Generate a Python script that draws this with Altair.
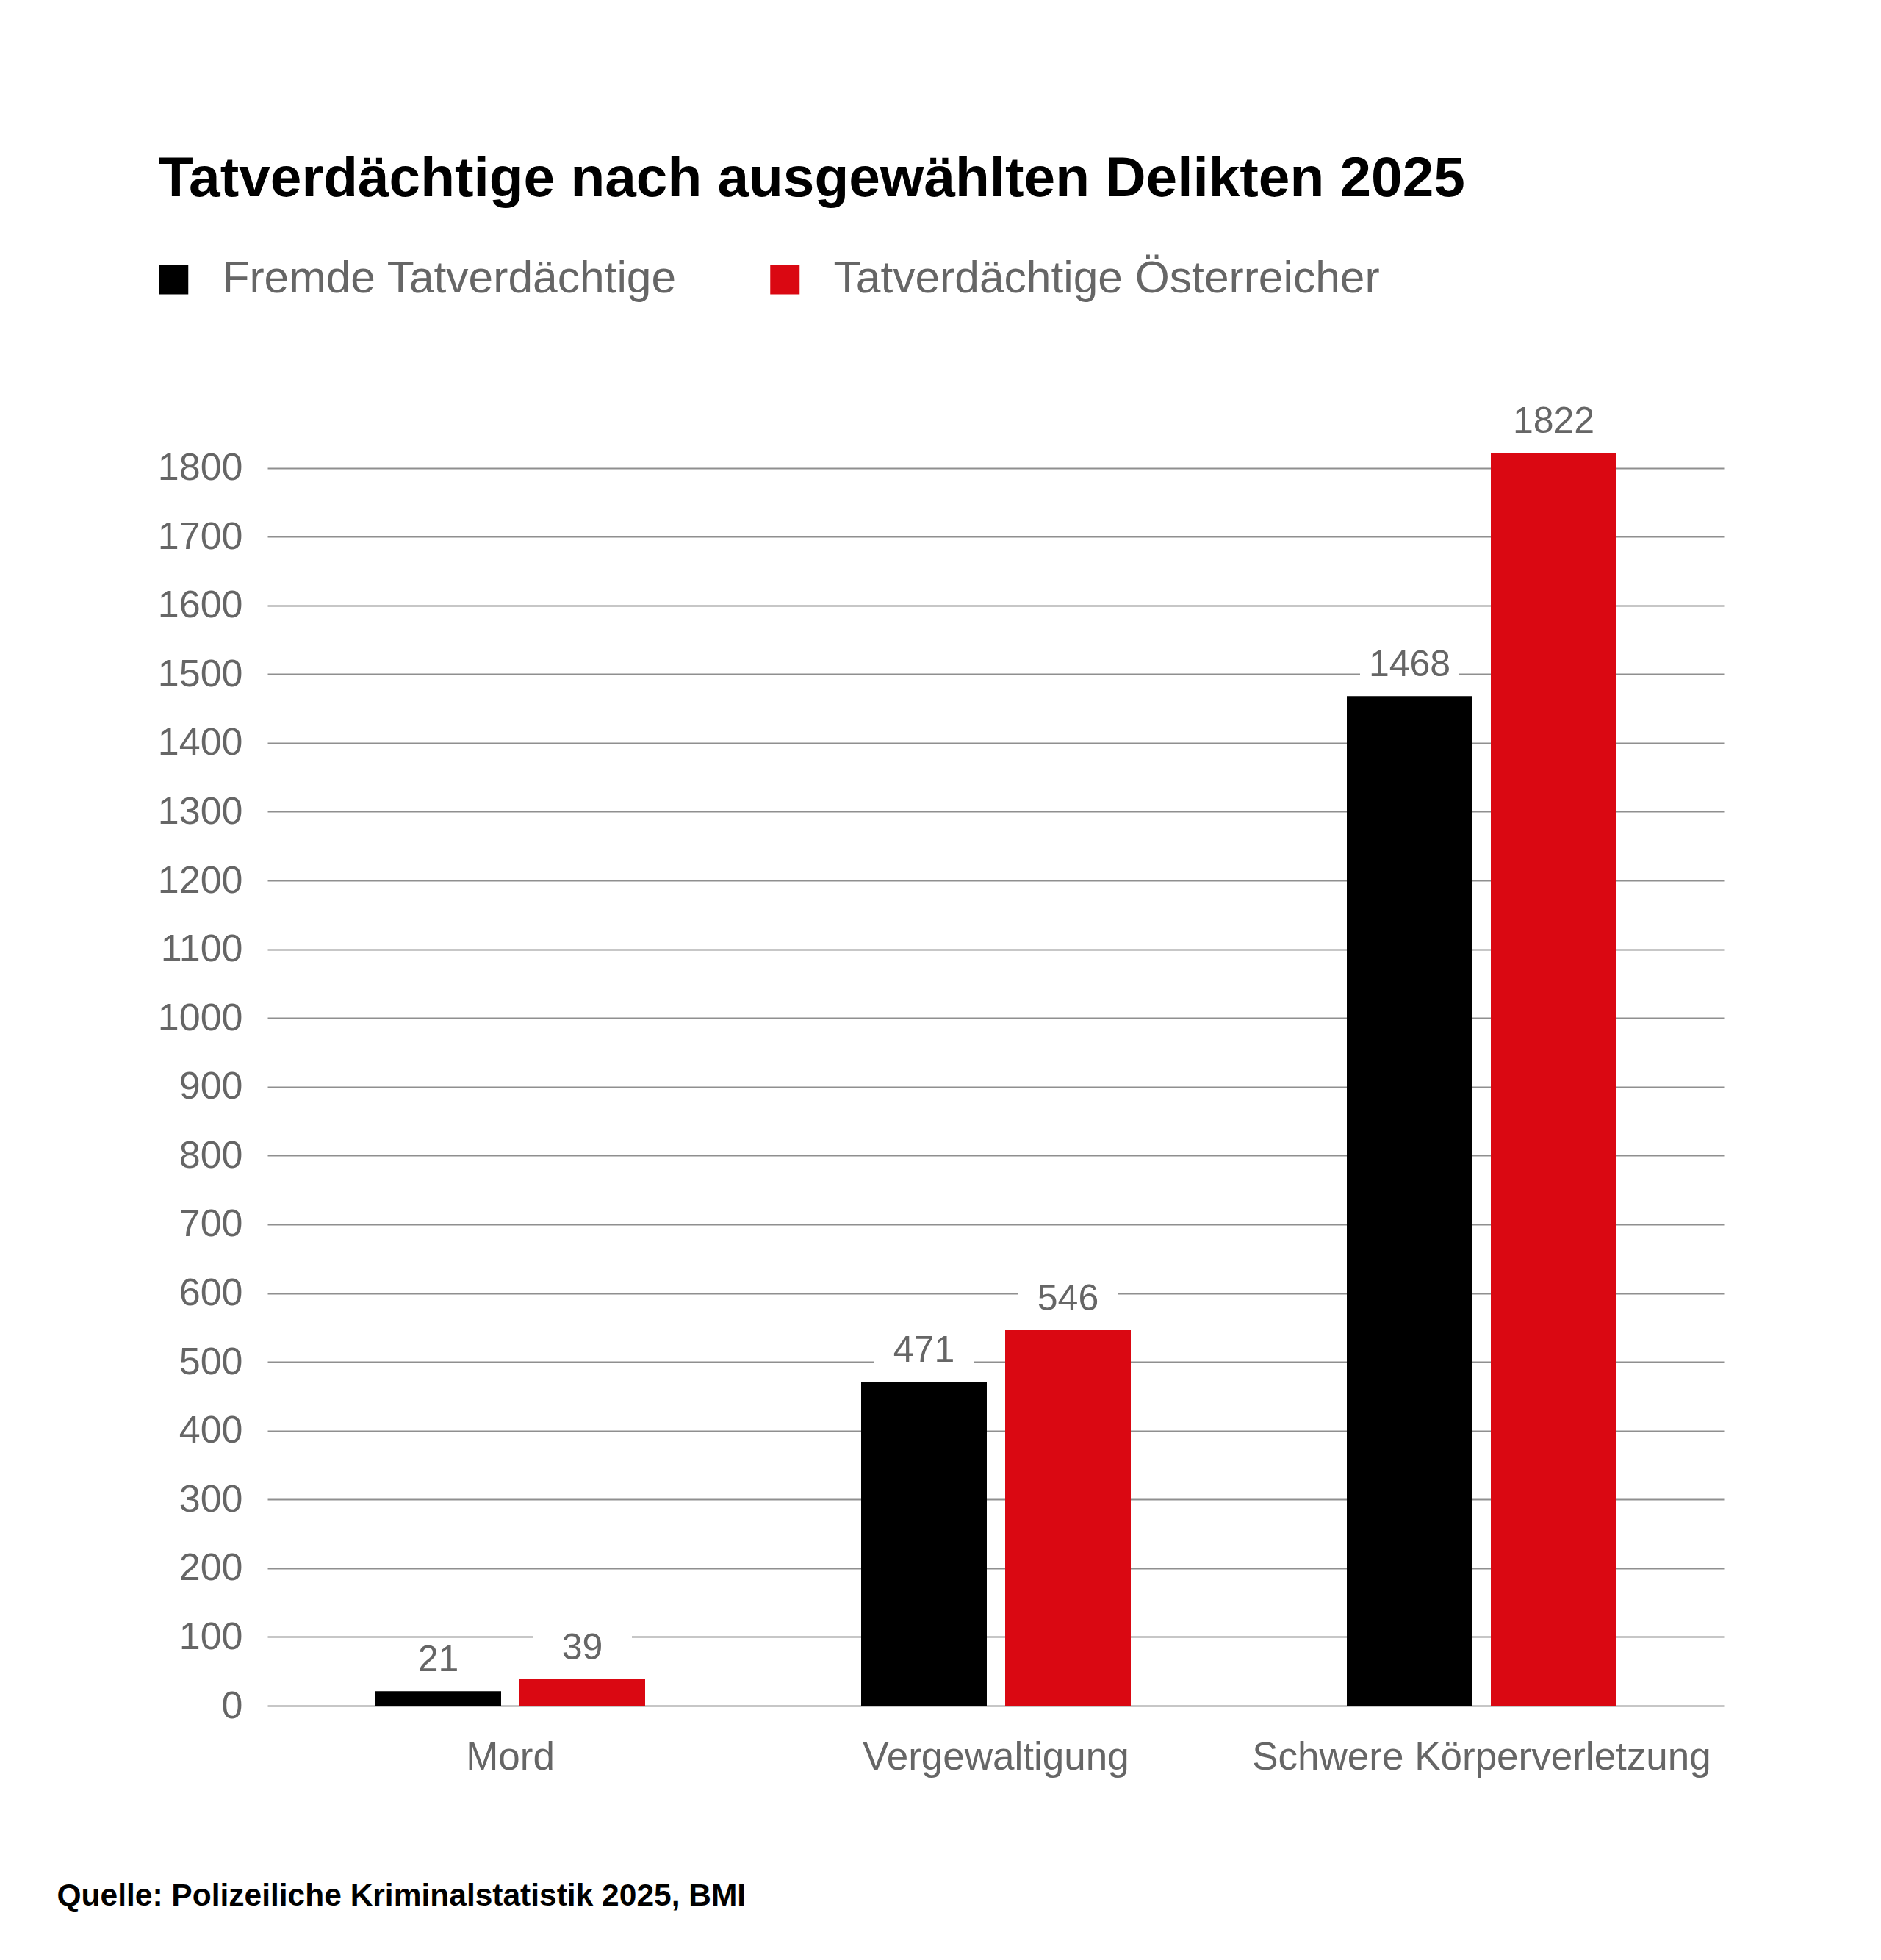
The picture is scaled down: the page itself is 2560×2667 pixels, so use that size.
import altair as alt
import pandas as pd

# Suspects by selected offence, 2025
categories = ["Mord", "Vergewaltigung", "Schwere Körperverletzung"]
series = ["Fremde Tatverdächtige", "Tatverdächtige Österreicher"]
fremde = [21, 471, 1468]
oesterreicher = [39, 546, 1822]
colors = ["#000000", "#da0812"]
y_ticks = list(range(0, 1900, 100))

rows = []
for cat, f, o in zip(categories, fremde, oesterreicher):
    rows.append({"Delikt": cat, "Gruppe": series[0], "Anzahl": f})
    rows.append({"Delikt": cat, "Gruppe": series[1], "Anzahl": o})
df = pd.DataFrame(rows)

FONT = "Liberation Sans"
GRAY = "#666666"

x_enc = alt.X(
    "Delikt:N",
    sort=categories,
    scale=alt.Scale(paddingInner=0, paddingOuter=0),
    axis=alt.Axis(
        title="Quelle: Polizeiliche Kriminalstatistik 2025, BMI",
        titleFont=FONT,
        titleFontSize=42.5,
        titleFontWeight="bold",
        titleColor="#000000",
        titleAnchor="start",
        titleAlign="left",
        titleBaseline="alphabetic",
        titleX=-287,
        titleY=271,
        titleLimit=0,
        labelAngle=0,
        labelFont=FONT,
        labelFontSize=53,
        labelColor=GRAY,
        labelBaseline="alphabetic",
        labelPadding=86,
        labelLimit=0,
        domain=False,
        ticks=False,
        tickSize=0,
        grid=False,
    ),
)
xoff_enc = alt.XOffset(
    "Gruppe:N",
    sort=series,
    scale=alt.Scale(paddingInner=0.1276, paddingOuter=0.75),
)

base = alt.Chart(df).encode(x=x_enc, xOffset=xoff_enc)

y_scale = alt.Scale(domain=[0, 1900], nice=False)

bars = base.mark_bar().encode(
    y=alt.Y(
        "Anzahl:Q",
        scale=y_scale,
        axis=alt.Axis(
            values=y_ticks,
            format="d",
            title=None,
            labelFont=FONT,
            labelFontSize=52,
            labelColor=GRAY,
            labelPadding=34,
            labelBaseline="middle",
            domain=False,
            ticks=False,
            tickSize=0,
            grid=True,
            gridColor="#8f8f8f",
            gridWidth=2,
        ),
    ),
    color=alt.Color(
        "Gruppe:N",
        sort=series,
        scale=alt.Scale(domain=series, range=colors),
        legend=alt.Legend(
            title=None,
            orient="none",
            legendX=-158,
            legendY=-193,
            direction="horizontal",
            symbolType="square",
            symbolSize=1600,
            symbolStrokeWidth=0,
            labelFont=FONT,
            labelFontSize=60.5,
            labelColor=GRAY,
            labelOffset=36,
            labelLimit=0,
            columnPadding=116,
            padding=0,
        ),
    ),
)

# white plates behind the value labels, interrupting the grid lines
plates = base.mark_bar(color="white", width=135, yOffset=-70, y2Offset=-6).encode(
    y=alt.Y("Anzahl:Q", scale=y_scale),
    y2=alt.Y2("Anzahl"),
)

labels = base.mark_text(
    dy=-27,
    baseline="alphabetic",
    font=FONT,
    fontSize=50,
    color=GRAY,
).encode(
    y=alt.Y("Anzahl:Q", scale=y_scale),
    text=alt.Text("Anzahl:Q", format="d"),
)

chart = (
    alt.layer(plates, bars, labels)
    .properties(
        width=1983,
        height=1778,
        title=alt.Title(
            "Tatverdächtige nach ausgewählten Delikten 2025",
            anchor="start",
            frame="group",
            dx=-148,
            dy=267,
            offset=273,
            baseline="alphabetic",
            font=FONT,
            fontSize=76.6,
            fontWeight="bold",
            color="#000000",
            limit=0,
        ),
        autosize=alt.AutoSizeParams(type="none"),
        padding={"left": 364, "top": 543, "right": 213, "bottom": 346},
        background="white",
    )
    .configure_view(stroke=None)
)

chart.save("out.html", embed_options={"renderer": "svg", "actions": False})
